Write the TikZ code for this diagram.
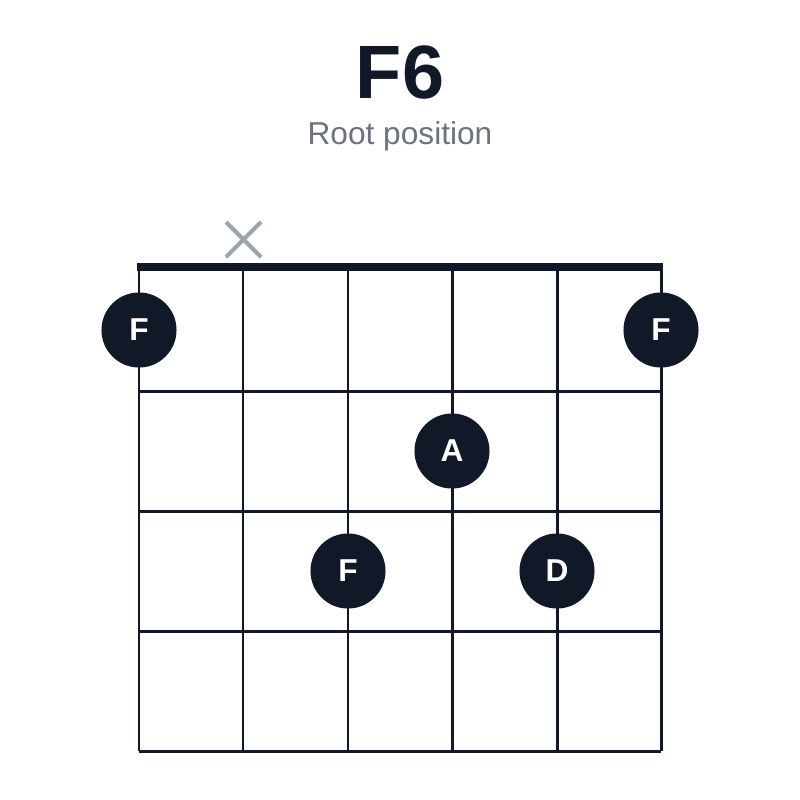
\documentclass[tikz,border=0pt]{standalone}
\usepackage{fontspec}
\setmainfont{Liberation Sans}
\definecolor{ink}{HTML}{111827}
\definecolor{gr}{HTML}{6B7280}
\definecolor{xg}{HTML}{9CA3AF}
\begin{document}
\begin{tikzpicture}[x=0.01cm,y=-0.01cm,
  grid/.style={ink,line width=0.85pt},
  dot/.style={circle,fill=ink,minimum size=0.75cm,inner sep=0pt,text=white,font=\fontsize{9}{9}\selectfont\bfseries}]
\fill[white] (0,0) rectangle (800,800);
\useasboundingbox (0,0) rectangle (800,800);
\node (title) at (400,72) {\fontsize{21.5}{22}\selectfont\bfseries\color{ink}F6};
\node (sub) at (400,136) {\fontsize{9}{10}\selectfont\color{gr}Root position};
\foreach \x in {139,243,348,452,557,661} \draw[grid] (\x,267) -- (\x,751);
\foreach \y in {391,511,631,751} \draw[grid] (139,\y) -- (661,\y);
\draw[ink,line width=2.4pt] (137,267) -- (663,267);
\draw[xg,line width=1.2pt] (226,222) -- (261,257) (226,257) -- (261,222);
\node[dot] (d1) at (139,330) {F};
\node[dot] (d2) at (661,330) {F};
\node[dot] (d3) at (452,451) {A};
\node[dot] (d4) at (348,571) {F};
\node[dot] (d5) at (557,571) {D};
\end{tikzpicture}
\end{document}
